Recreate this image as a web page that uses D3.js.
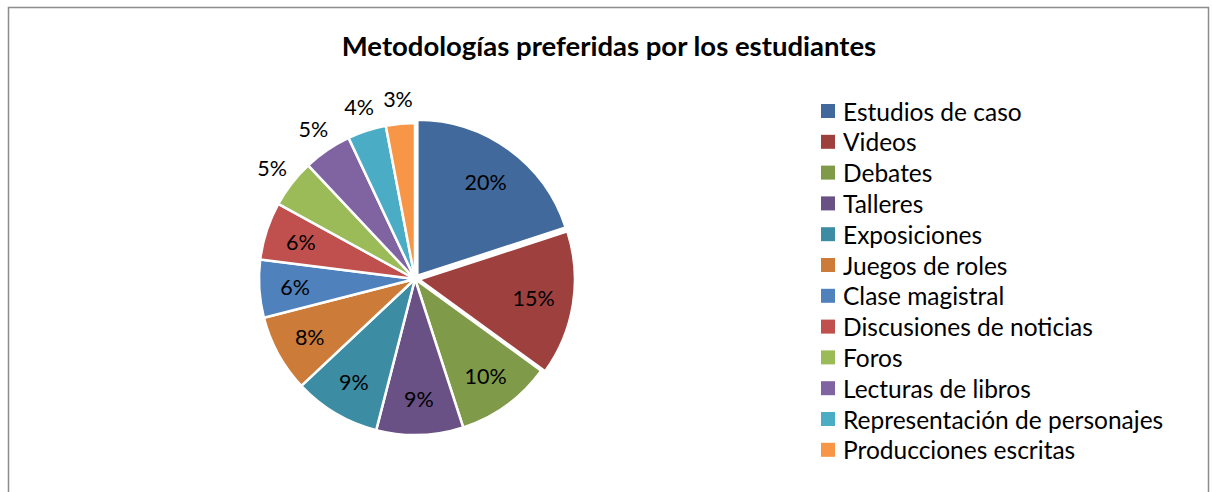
<!DOCTYPE html>
<html>
<head>
<meta charset="utf-8">
<script src="https://cdn.jsdelivr.net/npm/d3@7"></script>
<style>
  body { margin: 0; background: #fff; }
  svg { display: block; font-family: Lato, "Open Sans", sans-serif; }
</style>
</head>
<body>
<div id="chart"></div>
<script>
const categories = [
  "Estudios de caso", "Videos", "Debates", "Talleres", "Exposiciones",
  "Juegos de roles", "Clase magistral", "Discusiones de noticias", "Foros",
  "Lecturas de libros", "Representación de personajes", "Producciones escritas"
];
const values = [20, 15, 10, 9, 9, 8, 6, 6, 5, 5, 4, 3];
const colors = [
  "#41699b", "#9e413e", "#7f9a48", "#695185", "#3c8da3", "#cc7b38",
  "#4f81bd", "#c0504d", "#9bbb59", "#8064a2", "#4bacc6", "#f79646"
];
const title = "Metodologías preferidas por los estudiantes";

const width = 1212, height = 492;
const cx = 415, cy = 279, radius = 156;

const svg = d3.select("#chart").append("svg")
  .attr("width", width).attr("height", height);

// chart frame
svg.append("rect")
  .attr("x", 8.5).attr("y", 7.5)
  .attr("width", 1200).attr("height", 500)
  .attr("fill", "none").attr("stroke", "#8c8c8c").attr("stroke-width", 1.5);

svg.append("text")
  .attr("x", 609).attr("y", 56)
  .attr("text-anchor", "middle")
  .attr("font-weight", "bold").attr("font-size", 27.5)
  .text(title);

const data = categories.map((c, i) => ({ name: c, value: values[i], color: colors[i] }));

const pie = d3.pie().value(d => d.value).sort(null);
const arcs = pie(data);
const arc = d3.arc().innerRadius(0).outerRadius(radius);
const inner = d3.arc().innerRadius(radius * 0.77).outerRadius(radius * 0.77);
const outer = d3.arc().innerRadius(radius * 1.16).outerRadius(radius * 1.16);

// first two slices are pulled out a little
const explode = i => (i < 2 ? 4 : 0);

const g = svg.append("g").attr("transform", `translate(${cx},${cy})`);

g.selectAll("path")
  .data(arcs)
  .join("path")
  .attr("d", arc)
  .attr("fill", d => d.data.color)
  .attr("stroke", "#fff")
  .attr("stroke-width", 2.5)
  .attr("stroke-linejoin", "round")
  .attr("transform", (d, i) => {
    const a = (d.startAngle + d.endAngle) / 2;
    const e = explode(i);
    return `translate(${Math.sin(a) * e},${-Math.cos(a) * e})`;
  });

g.selectAll("text.lbl")
  .data(arcs)
  .join("text")
  .attr("class", "lbl")
  .attr("transform", d => `translate(${(d.data.value >= 6 ? inner : outer).centroid(d)})`)
  .attr("text-anchor", "middle")
  .attr("dominant-baseline", "central")
  .attr("font-size", 21.5)
  .attr("fill", "#000")
  .text(d => d.data.value + "%");

// legend
const legend = svg.append("g").attr("transform", "translate(821,111)");
const row = legend.selectAll("g")
  .data(data)
  .join("g")
  .attr("transform", (d, i) => `translate(0,${i * 30.8})`);

row.append("rect")
  .attr("x", 0).attr("y", -7)
  .attr("width", 14).attr("height", 14)
  .attr("fill", d => d.color);

row.append("text")
  .attr("x", 22).attr("y", 0)
  .attr("dominant-baseline", "central")
  .attr("font-size", 24.5)
  .text(d => d.name);
</script>
</body>
</html>
